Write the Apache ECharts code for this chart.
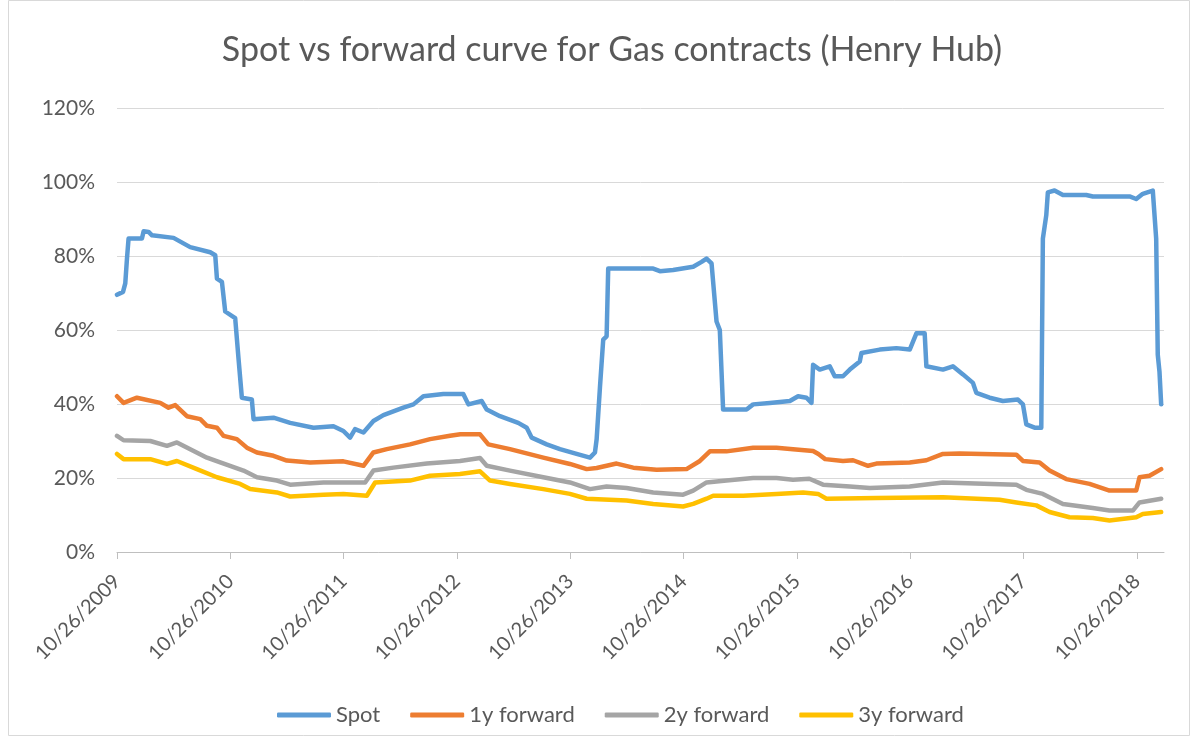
<!DOCTYPE html>
<html>
<head>
<meta charset="utf-8">
<script src="https://cdn.jsdelivr.net/npm/echarts@6/dist/echarts.min.js"></script>
<style>
  html, body { margin: 0; padding: 0; background: #fff; }
  #main { width: 1198px; height: 737px; }
</style>
</head>
<body>
<div id="main"></div>
<script>
var chartDom = document.getElementById('main');
var myChart = echarts.init(chartDom);
var option;

// x = years after 10/26/2009, y = percent
var yearTicks = [0, 1, 2, 3, 4, 5, 6, 7, 8, 9];
var seriesNames = ['Spot', '1y forward', '2y forward', '3y forward'];

var spot = [
  [0, 69.5], [0.053, 70.3], [0.073, 72.6], [0.088, 79.3], [0.102, 84.7], [0.22, 84.7],
  [0.235, 86.7], [0.279, 86.5], [0.309, 85.6], [0.499, 84.9], [0.646, 82.4], [0.823, 81],
  [0.867, 80.2], [0.882, 73.9], [0.926, 73], [0.955, 65], [1.043, 63.2], [1.072, 52.4],
  [1.102, 41.7], [1.19, 41.2], [1.205, 35.9], [1.381, 36.3], [1.528, 34.9], [1.734, 33.6],
  [1.91, 34], [1.998, 32.7], [2.057, 30.9], [2.101, 33.2], [2.175, 32.3], [2.263, 35.4],
  [2.351, 37], [2.527, 39], [2.616, 39.9], [2.704, 42.1], [2.88, 42.7], [3.056, 42.7],
  [3.101, 39.9], [3.219, 40.8], [3.263, 38.5], [3.38, 36.7], [3.541, 34.9], [3.616, 33.6],
  [3.66, 30.9], [3.792, 29.1], [3.909, 27.8], [4.056, 26.5], [4.174, 25.5], [4.218, 26.9],
  [4.233, 30.5], [4.262, 44.4], [4.291, 57.4], [4.321, 58.3], [4.335, 76.6], [4.732, 76.6],
  [4.791, 75.9], [4.908, 76.2], [5.085, 77.1], [5.159, 78.4], [5.203, 79.3], [5.247, 78],
  [5.291, 62.3], [5.32, 60], [5.349, 38.5], [5.556, 38.5], [5.614, 39.9], [5.761, 40.3],
  [5.938, 40.8], [6.011, 42.1], [6.085, 41.7], [6.129, 40.3], [6.143, 50.6], [6.202, 49.3],
  [6.29, 50.2], [6.334, 47.5], [6.407, 47.5], [6.467, 49.3], [6.555, 51.5], [6.57, 53.8],
  [6.731, 54.7], [6.878, 55.1], [6.996, 54.7], [7.055, 59.1], [7.128, 59.1], [7.143, 50.2],
  [7.289, 49.3], [7.377, 50.2], [7.466, 48], [7.554, 45.7], [7.584, 43], [7.701, 41.7],
  [7.818, 40.8], [7.951, 41.2], [7.995, 39.9], [8.025, 34.5], [8.098, 33.6], [8.157, 33.6],
  [8.171, 84.7], [8.201, 91], [8.215, 97.2], [8.274, 97.7], [8.348, 96.5], [8.554, 96.5],
  [8.612, 96.1], [8.936, 96.1], [8.995, 95.4], [9.053, 96.8], [9.141, 97.7], [9.171, 84.7],
  [9.185, 53.3], [9.2, 48.8], [9.215, 39.9]
];

var fwd1y = [
  [0, 42.1], [0.058, 40.3], [0.176, 41.7], [0.382, 40.3], [0.455, 39], [0.514, 39.7],
  [0.617, 36.7], [0.735, 35.9], [0.794, 34.1], [0.882, 33.6], [0.94, 31.4], [1.058, 30.5],
  [1.146, 28.2], [1.235, 26.9], [1.381, 26], [1.499, 24.7], [1.705, 24.2], [1.998, 24.5],
  [2.175, 23.3], [2.263, 26.9], [2.381, 27.8], [2.586, 29.1], [2.763, 30.5], [2.939, 31.4],
  [3.03, 31.8], [3.204, 31.8], [3.277, 29.1], [3.468, 27.8], [3.762, 25.5], [3.997, 23.8],
  [4.145, 22.4], [4.233, 22.7], [4.409, 23.9], [4.556, 22.8], [4.762, 22.2], [5.026, 22.4],
  [5.144, 24.6], [5.232, 27.2], [5.379, 27.2], [5.614, 28.2], [5.82, 28.2], [5.966, 27.8],
  [6.143, 27.3], [6.19, 26.5], [6.25, 25.1], [6.407, 24.6], [6.496, 24.8], [6.628, 23.3],
  [6.702, 23.9], [6.996, 24.2], [7.143, 24.8], [7.289, 26.5], [7.436, 26.6], [7.937, 26.3],
  [7.995, 24.6], [8.142, 24.2], [8.23, 22], [8.377, 19.7], [8.583, 18.4], [8.759, 16.6],
  [8.995, 16.6], [9.024, 20.2], [9.112, 20.6], [9.215, 22.4]
];

var fwd2y = [
  [0, 31.4], [0.058, 30.2], [0.294, 30], [0.441, 28.7], [0.529, 29.6], [0.646, 27.8],
  [0.794, 25.5], [0.911, 24.2], [1.116, 22], [1.235, 20.2], [1.411, 19.3], [1.528, 18.2],
  [1.822, 18.8], [1.998, 18.8], [2.19, 18.8], [2.263, 22], [2.439, 22.8], [2.734, 23.9],
  [3.027, 24.6], [3.204, 25.4], [3.263, 23.3], [3.468, 22], [3.762, 20.2], [3.997, 18.8],
  [4.174, 17], [4.321, 17.7], [4.497, 17.3], [4.732, 16.1], [4.996, 15.5], [5.085, 16.6],
  [5.203, 18.8], [5.379, 19.3], [5.614, 20], [5.82, 20], [5.966, 19.5], [6.11, 19.8],
  [6.231, 18.2], [6.467, 17.7], [6.644, 17.3], [6.996, 17.7], [7.289, 18.8], [7.937, 18.2],
  [8.025, 16.8], [8.171, 15.7], [8.348, 13], [8.612, 11.9], [8.759, 11.2], [8.965, 11.2],
  [9.024, 13.4], [9.215, 14.4]
];

var fwd3y = [
  [0, 26.5], [0.058, 25.1], [0.294, 25.1], [0.441, 23.8], [0.529, 24.6], [0.705, 22.4],
  [0.882, 20.2], [1.087, 18.4], [1.175, 17], [1.411, 16.1], [1.528, 15], [1.822, 15.5],
  [1.998, 15.7], [2.205, 15.2], [2.278, 18.8], [2.586, 19.3], [2.763, 20.6], [3.027, 21.1],
  [3.204, 21.8], [3.292, 19.3], [3.468, 18.4], [3.762, 17], [3.997, 15.7], [4.145, 14.4],
  [4.497, 13.9], [4.732, 13], [4.996, 12.3], [5.085, 13], [5.203, 14.4], [5.261, 15.2],
  [5.526, 15.2], [5.82, 15.7], [6.055, 16.1], [6.187, 15.7], [6.261, 14.4], [6.702, 14.6],
  [7.289, 14.8], [7.789, 14.1], [7.937, 13.4], [8.113, 12.6], [8.23, 10.8], [8.406, 9.4],
  [8.612, 9.2], [8.759, 8.5], [8.995, 9.4], [9.053, 10.3], [9.215, 10.8]
];

var colors = ['#5B9BD5', '#ED7D31', '#A5A5A5', '#FFC000'];
var allData = [spot, fwd1y, fwd2y, fwd3y];
var fontFamily = 'Lato, "Liberation Sans", sans-serif';

option = {
  animation: false,
  color: colors,
  textStyle: { fontFamily: fontFamily },
  title: {
    text: 'Spot vs forward curve for Gas contracts (Henry Hub)',
    left: 607,
    top: 28,
    textAlign: 'center',
    textStyle: { fontSize: 34, fontWeight: 'normal', color: '#595959', fontFamily: fontFamily }
  },
  graphic: [{
    type: 'rect',
    shape: { x: 8.5, y: 0.5, width: 1181, height: 735 },
    style: { fill: 'none', stroke: '#d9d9d9', lineWidth: 1 },
    silent: true
  }],
  legend: {
    bottom: 6,
    left: 272,
    icon: 'roundRect',
    itemWidth: 54,
    itemHeight: 5,
    itemGap: 30,
    textStyle: { fontSize: 22, color: '#595959', fontFamily: fontFamily },
    data: seriesNames
  },
  grid: { left: 117, right: 34, top: 108, bottom: 185 },
  xAxis: {
    type: 'value',
    min: 0,
    max: 9.24,
    interval: 1,
    splitLine: { show: false },
    axisLine: { lineStyle: { color: '#bfbfbf' } },
    axisTick: { show: true, length: 7, customValues: yearTicks, lineStyle: { color: '#bfbfbf' } },
    axisLabel: {
      customValues: yearTicks,
      rotate: 45,
      margin: 26,
      fontSize: 20,
      color: '#595959',
      formatter: function (v) { return '10/26/' + (2009 + Math.round(v)); }
    }
  },
  yAxis: {
    type: 'value',
    min: 0,
    max: 120,
    interval: 20,
    axisLine: { show: false },
    axisTick: { show: false },
    splitLine: { lineStyle: { color: '#d9d9d9', width: 1 } },
    axisLabel: { margin: 22, fontSize: 21, color: '#595959', formatter: '{value}%' }
  },
  series: seriesNames.map(function (name, i) {
    return {
      name: name,
      type: 'line',
      showSymbol: false,
      symbol: 'none',
      lineStyle: { width: 4.5, color: colors[i], cap: 'round', join: 'round' },
      data: allData[i]
    };
  })
};

option && myChart.setOption(option);
</script>
</body>
</html>
